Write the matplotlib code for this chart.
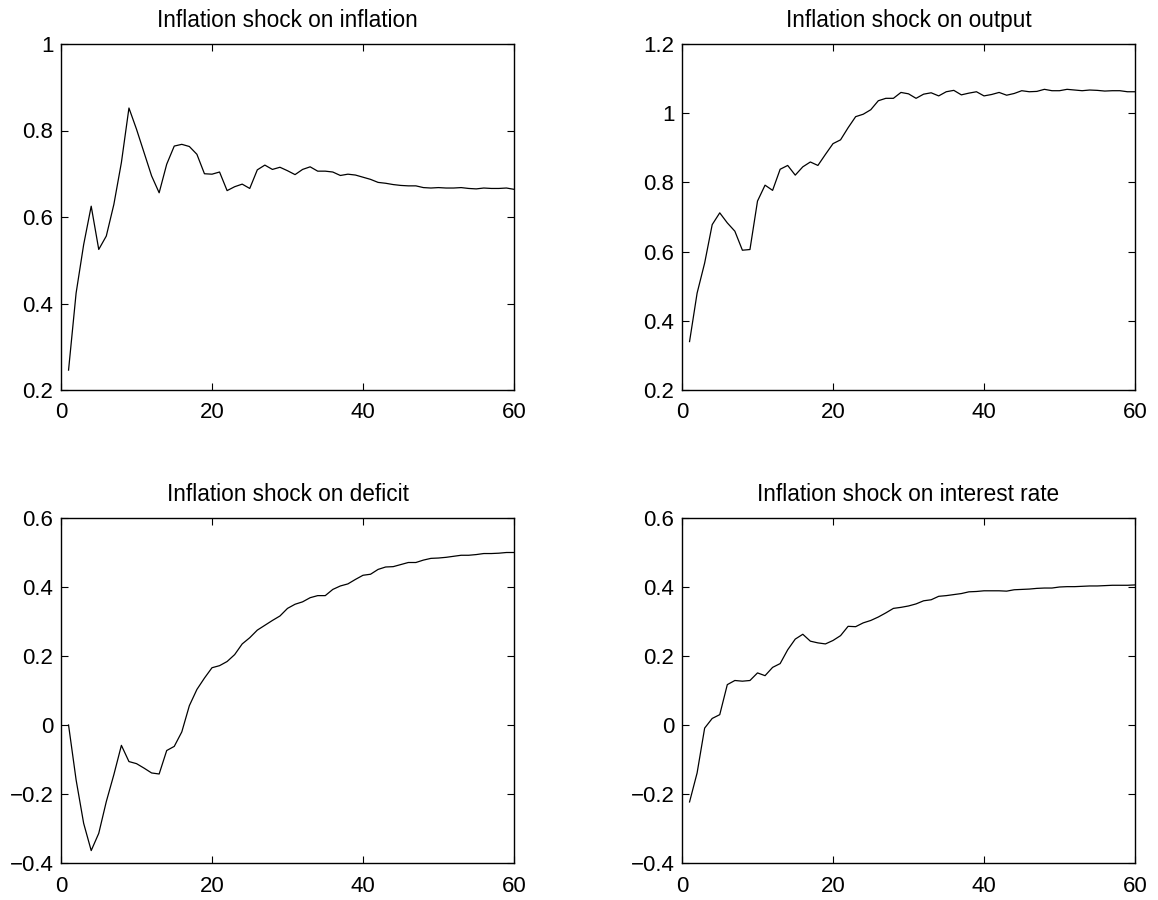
import matplotlib
matplotlib.use("Agg")
import matplotlib.pyplot as plt
import numpy as np

plt.rcParams['font.family'] = ['Liberation Sans', 'DejaVu Sans']

periods = list(range(1, 61))

inflation = [0.246, 0.424, 0.536, 0.625, 0.525, 0.556, 0.629, 0.726, 0.852, 0.803,
             0.749, 0.695, 0.656, 0.722, 0.764, 0.768, 0.763, 0.745, 0.700, 0.699,
             0.704, 0.661, 0.670, 0.676, 0.666, 0.709, 0.720, 0.710, 0.715, 0.707,
             0.698, 0.710, 0.716, 0.706, 0.706, 0.704, 0.696, 0.699, 0.697, 0.692,
             0.687, 0.680, 0.678, 0.675, 0.673, 0.672, 0.672, 0.668, 0.667, 0.668,
             0.667, 0.667, 0.668, 0.666, 0.665, 0.667, 0.666, 0.666, 0.667, 0.664]

output = [0.340, 0.480, 0.567, 0.678, 0.712, 0.683, 0.659, 0.604, 0.606, 0.746,
          0.792, 0.777, 0.838, 0.849, 0.821, 0.845, 0.859, 0.849, 0.881, 0.912,
          0.923, 0.958, 0.990, 0.997, 1.010, 1.036, 1.043, 1.043, 1.060, 1.056,
          1.043, 1.055, 1.059, 1.050, 1.062, 1.066, 1.053, 1.058, 1.062, 1.050,
          1.054, 1.060, 1.052, 1.057, 1.065, 1.062, 1.063, 1.069, 1.065, 1.065,
          1.069, 1.067, 1.065, 1.067, 1.066, 1.064, 1.065, 1.065, 1.062, 1.062]

deficit = [0.000, -0.159, -0.285, -0.364, -0.314, -0.222, -0.144, -0.059, -0.106, -0.112,
           -0.125, -0.139, -0.142, -0.074, -0.062, -0.020, 0.056, 0.103, 0.136, 0.166,
           0.172, 0.184, 0.204, 0.235, 0.253, 0.275, 0.289, 0.303, 0.316, 0.338,
           0.350, 0.357, 0.369, 0.375, 0.375, 0.393, 0.403, 0.409, 0.422, 0.434,
           0.437, 0.451, 0.458, 0.459, 0.465, 0.471, 0.471, 0.478, 0.483, 0.484,
           0.486, 0.489, 0.492, 0.492, 0.494, 0.497, 0.497, 0.498, 0.500, 0.500]

interest = [-0.223, -0.139, -0.009, 0.019, 0.030, 0.117, 0.129, 0.127, 0.129, 0.151,
            0.143, 0.167, 0.178, 0.218, 0.249, 0.263, 0.243, 0.238, 0.235, 0.245,
            0.259, 0.286, 0.285, 0.296, 0.303, 0.313, 0.325, 0.338, 0.341, 0.345,
            0.351, 0.360, 0.363, 0.373, 0.375, 0.378, 0.381, 0.386, 0.387, 0.389,
            0.389, 0.389, 0.388, 0.392, 0.393, 0.394, 0.396, 0.397, 0.397, 0.400,
            0.401, 0.401, 0.402, 0.403, 0.403, 0.404, 0.405, 0.405, 0.405, 0.406]

titles = ["Inflation shock on inflation", "Inflation shock on output",
          "Inflation shock on deficit", "Inflation shock on interest rate"]
series = [inflation, output, deficit, interest]
ylims = [(0.2, 1.0), (0.2, 1.2), (-0.4, 0.6), (-0.4, 0.6)]
yticks = [[0.2, 0.4, 0.6, 0.8, 1.0], [0.2, 0.4, 0.6, 0.8, 1.0, 1.2],
          [-0.4, -0.2, 0, 0.2, 0.4, 0.6], [-0.4, -0.2, 0, 0.2, 0.4, 0.6]]
xticks = [0, 20, 40, 60]

W, H = 1158, 900
fig = plt.figure(figsize=(W / 100, H / 100), dpi=100)

boxes = [(61, 44, 514, 390), (682, 44, 1135, 390),
         (61, 518, 514, 863), (682, 518, 1135, 863)]


def fmt(v):
    s = ('%g' % round(v, 10))
    return s.replace('-', '\u2212')


for i in range(4):
    x0, y0, x1, y1 = boxes[i]
    ax = fig.add_axes([x0 / W, 1 - y1 / H, (x1 - x0) / W, (y1 - y0) / H])
    ax.plot(periods, series[i], color='black', lw=0.9)
    ax.set_xlim(0, 60)
    ax.set_ylim(*ylims[i])
    ax.set_xticks(xticks)
    ax.set_xticklabels([fmt(t) for t in xticks])
    ax.set_yticks(yticks[i])
    ax.set_yticklabels([fmt(t) for t in yticks[i]])
    ax.tick_params(direction='in', length=5, width=0.8, top=True, right=True,
                   labelsize=16)
    ax.tick_params(axis='x', pad=9)
    ax.tick_params(axis='y', pad=5.5)
    for sp in ax.spines.values():
        sp.set_linewidth(1.0)
    ax.set_title(titles[i], fontsize=16.3, pad=12)

fig.savefig("out.png", dpi=100)
